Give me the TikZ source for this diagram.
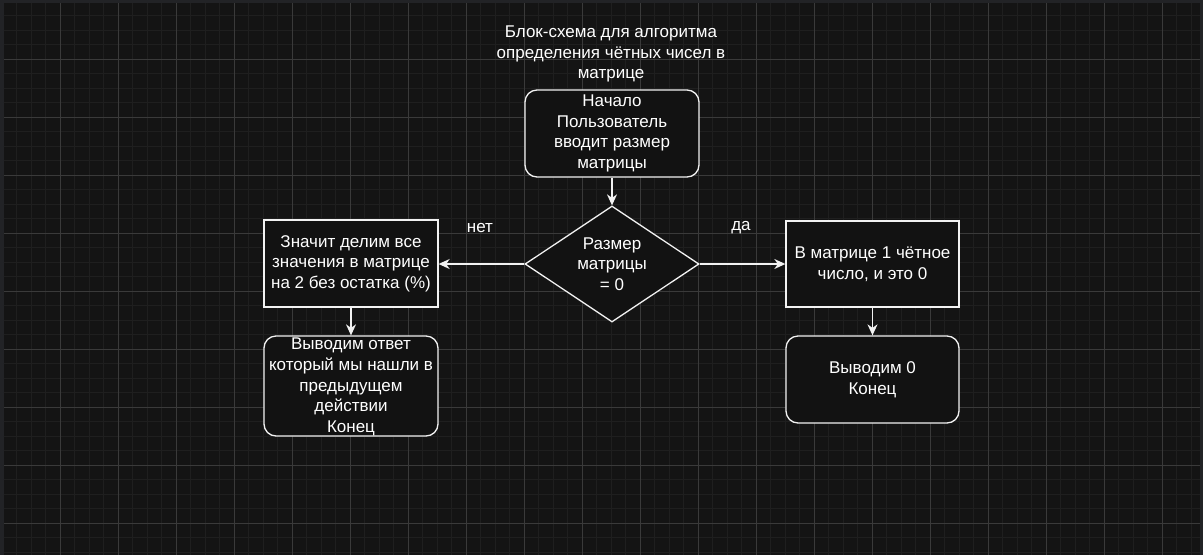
\documentclass[tikz,border=0pt]{standalone}
\usepackage{fontspec}
\setmainfont{Liberation Sans}
\usetikzlibrary{shapes.geometric,arrows.meta}
\definecolor{frame}{HTML}{222326}
\definecolor{bg}{HTML}{141414}
\definecolor{minorc}{HTML}{1F1F1F}
\definecolor{majorc}{HTML}{3A3A3A}
\definecolor{boxfill}{HTML}{121212}
\definecolor{linec}{HTML}{F2F2F2}
\tikzset{
  txt/.style={text=white, font=\fontsize{17}{20.6}\selectfont, align=center, inner sep=0pt},
  procbox/.style={draw=linec, fill=boxfill, line width=1.3pt, inner sep=0pt},
  roundbox/.style={procbox, rounded corners=12pt},
  decbox/.style={procbox, diamond, minimum width=174pt, minimum height=116pt},
  arr/.style={draw=linec, line width=1.3pt, -{Stealth[length=11pt,width=10pt,inset=3.5pt]}},
}
\begin{document}
\begin{tikzpicture}[x=1pt,y=-1pt]
\useasboundingbox (0,0) rectangle (1203,555);
\fill[frame] (0,0) rectangle (1203,555);
\fill[bg] (3.5,3) rectangle (1200,555);
% grid
\begin{scope}
\clip (3.5,3) rectangle (1200,555);
\foreach \k in {1,...,82} {
  \draw[minorc, line width=1pt] ({2+14.5*\k},3) -- ({2+14.5*\k},555);
}
\foreach \k in {1,...,38} {
  \draw[minorc, line width=1pt] (3.5,{1.3+14.5*\k}) -- (1200,{1.3+14.5*\k});
}
\foreach \k in {1,...,20} {
  \draw[majorc, line width=1pt] ({2+58*\k},3) -- ({2+58*\k},555);
}
\foreach \k in {1,...,9} {
  \draw[majorc, line width=1pt] (3.5,{1.3+58*\k}) -- (1200,{1.3+58*\k});
}
\end{scope}

% title
\node[txt] (title) at (611,54) {Блок-схема для алгоритма\\определения чётных чисел в\\матрице};

% nodes
\node[roundbox, minimum width=174pt, minimum height=87pt] (start) at (612,133.5) {};
\node[txt] (starttxt) at (start.center) {Начало\\Пользователь\\вводит размер\\матрицы};

\node[decbox] (dec) at (612,264) {};
\node[txt] (dectxt) at (dec.center) {Размер\\матрицы\\= 0};

\node[procbox, minimum width=174pt, minimum height=87pt] (left) at (351,263.5) {};
\node[txt] (lefttxt) at (left.center) {Значит делим все\\значения в матрице\\на 2 без остатка (\%)};

\node[roundbox, minimum width=174pt, minimum height=100pt] (leftend) at (351,386) {};
\node[txt] (leftendtxt) at (351,387) {Выводим ответ\\который мы нашли в\\предыдущем\\действии\\Конец};

\node[procbox, minimum width=173pt, minimum height=86pt] (right) at (872.5,264) {};
\node[txt] (righttxt) at (right.center) {В матрице 1 чётное\\число, и это 0};

\node[roundbox, minimum width=173pt, minimum height=87pt] (rightend) at (872.5,379.5) {};
\node[txt] (rightendtxt) at (rightend.center) {Выводим 0\\Конец};

% labels
\node[txt] (no) at (480,228) {нет};
\node[txt] (yes) at (741,228) {да};

% connectors
\draw[arr] (start.south) -- (dec.north);
\draw[arr] (dec.west) -- (dec.west -| left.east);
\draw[arr] (dec.east) -- (dec.east -| right.west);
\draw[arr] (left.south) -- (leftend.north);
\draw[arr] (right.south) -- (rightend.north);
\end{tikzpicture}
\end{document}
